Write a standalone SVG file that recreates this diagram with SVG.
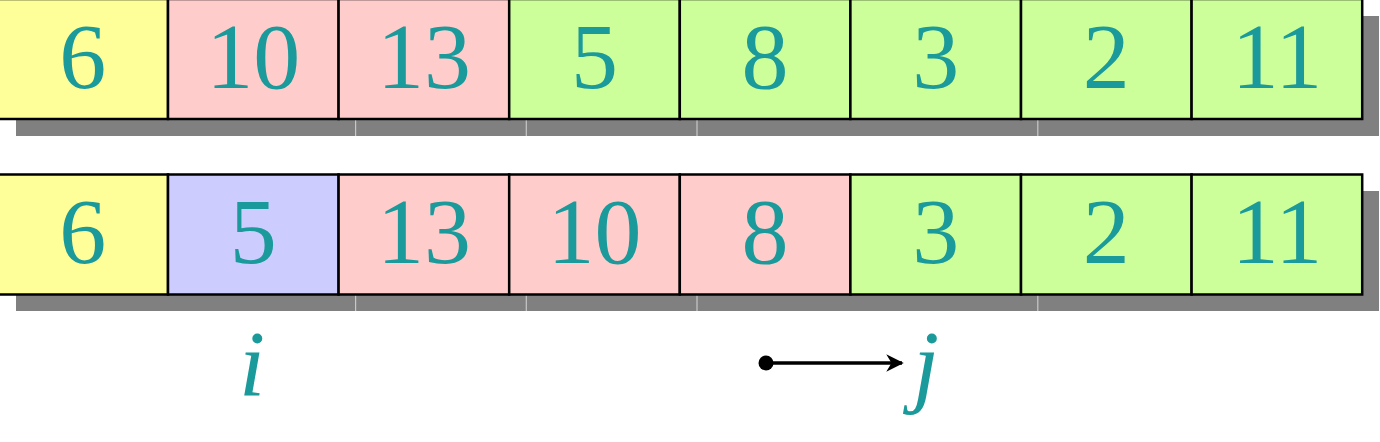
<svg xmlns="http://www.w3.org/2000/svg" width="1380" height="442" viewBox="0 0 1380 442">
<style>
.c{stroke:#000;stroke-width:2.5}
.y{fill:#ffff99}.p{fill:#ffcccc}.g{fill:#ccff99}.b{fill:#ccccff}
.t{font-family:'Liberation Serif', serif;font-size:94px;fill:#1a9a9a;text-anchor:middle}
.it{font-style:italic}
.sh{fill:#808080}
.seam{stroke:#c8c8c8;stroke-width:1.2}
</style>
<defs>
<marker id="ah" viewBox="0 0 10 10" refX="9" refY="5" markerWidth="5.5" markerHeight="5" orient="auto" markerUnits="strokeWidth">
<path d="M0,0 L10,5 L0,10 L3,5 Z" fill="#000"/>
</marker>
</defs>
<rect width="1380" height="442" fill="#fff"/>
<g id="shadows">
<rect class="sh" x="16" y="16" width="1363" height="120"/>
<rect class="sh" x="16" y="191" width="1363" height="120"/>
<g class="seam">
<line x1="355.6" y1="120" x2="355.6" y2="136"/><line x1="526.3" y1="120" x2="526.3" y2="136"/><line x1="697" y1="120" x2="697" y2="136"/><line x1="1037.8" y1="120" x2="1037.8" y2="136"/>
<line x1="355.6" y1="295" x2="355.6" y2="311"/><line x1="526.3" y1="295" x2="526.3" y2="311"/><line x1="697" y1="295" x2="697" y2="311"/><line x1="1037.8" y1="295" x2="1037.8" y2="311"/>
</g>
</g>
<g id="row1">
<g id="r1c1"><rect class="c y" x="-2.6" y="-1" width="170.6" height="120"/><text class="t" x="82.7" y="88">6</text></g>
<g id="r1c2"><rect class="c p" x="168" y="-1" width="170.6" height="120"/><text class="t" x="253.3" y="88">10</text></g>
<g id="r1c3"><rect class="c p" x="338.6" y="-1" width="170.6" height="120"/><text class="t" x="423.9" y="88">13</text></g>
<g id="r1c4"><rect class="c g" x="509.2" y="-1" width="170.6" height="120"/><text class="t" x="594.5" y="88">5</text></g>
<g id="r1c5"><rect class="c g" x="679.8" y="-1" width="170.6" height="120"/><text class="t" x="765.1" y="88">8</text></g>
<g id="r1c6"><rect class="c g" x="850.4" y="-1" width="170.6" height="120"/><text class="t" x="935.7" y="88">3</text></g>
<g id="r1c7"><rect class="c g" x="1021" y="-1" width="170.6" height="120"/><text class="t" x="1106.3" y="88">2</text></g>
<g id="r1c8"><rect class="c g" x="1191.6" y="-1" width="170.6" height="120"/><text class="t" x="1276.9" y="88">11</text></g>
</g>
<g id="row2">
<g id="r2c1"><rect class="c y" x="-2.6" y="174.5" width="170.6" height="120"/><text class="t" x="82.7" y="263">6</text></g>
<g id="r2c2"><rect class="c b" x="168" y="174.5" width="170.6" height="120"/><text class="t" x="253.3" y="263">5</text></g>
<g id="r2c3"><rect class="c p" x="338.6" y="174.5" width="170.6" height="120"/><text class="t" x="423.9" y="263">13</text></g>
<g id="r2c4"><rect class="c p" x="509.2" y="174.5" width="170.6" height="120"/><text class="t" x="594.5" y="263">10</text></g>
<g id="r2c5"><rect class="c p" x="679.8" y="174.5" width="170.6" height="120"/><text class="t" x="765.1" y="263">8</text></g>
<g id="r2c6"><rect class="c g" x="850.4" y="174.5" width="170.6" height="120"/><text class="t" x="935.7" y="263">3</text></g>
<g id="r2c7"><rect class="c g" x="1021" y="174.5" width="170.6" height="120"/><text class="t" x="1106.3" y="263">2</text></g>
<g id="r2c8"><rect class="c g" x="1191.6" y="174.5" width="170.6" height="120"/><text class="t" x="1276.9" y="263">11</text></g>
</g>
<g id="label-i"><text class="t it" x="252" y="395">i</text></g>
<g id="label-j"><text class="t it" x="926" y="395">j</text></g>
<g id="connectors">
<circle cx="766" cy="363" r="7.5" fill="#000"/>
<line x1="766" y1="363" x2="902" y2="363" stroke="#000" stroke-width="3.5" marker-end="url(#ah)"/>
</g>
</svg>
